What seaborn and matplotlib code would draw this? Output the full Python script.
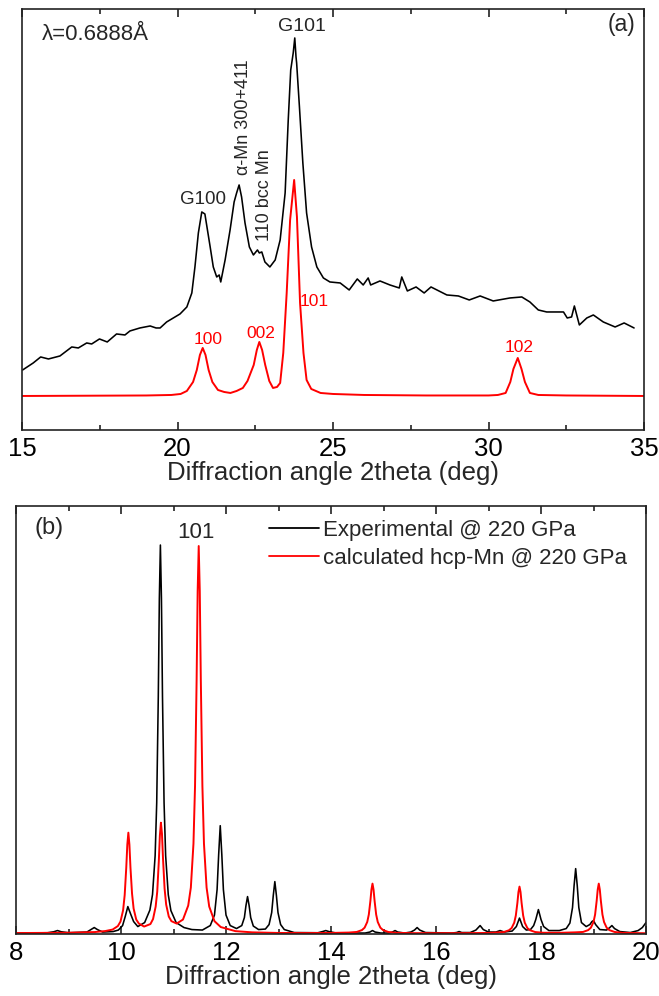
import numpy as np
import pandas as pd
import matplotlib
matplotlib.use("Agg")
import matplotlib.pyplot as plt
import seaborn as sns
from matplotlib.ticker import MultipleLocator

# ---------------- data: panel (a) ----------------
x_a_exp = [15.02, 15.36, 15.60, 15.85, 16.22, 16.60, 16.81, 17.08, 17.24, 17.49, 17.74, 18.04,
           18.31, 18.47, 18.79, 19.12, 19.31, 19.44, 19.65, 20.08, 20.30, 20.46, 20.56, 20.67,
           20.78, 20.88, 21.05, 21.15, 21.26, 21.34, 21.39, 21.53, 21.69, 21.82, 21.90, 21.98,
           22.06, 22.17, 22.31, 22.44, 22.57, 22.63, 22.71, 22.81, 22.97, 23.14, 23.30, 23.46,
           23.56, 23.64, 23.72, 23.77, 23.81, 23.83, 23.92, 24.03, 24.15, 24.31, 24.48, 24.69,
           24.90, 25.23, 25.52, 25.78, 25.97, 26.13, 26.21, 26.51, 26.83, 27.13, 27.21, 27.39,
           27.67, 27.93, 28.15, 28.66, 29.03, 29.38, 29.73, 30.15, 30.69, 31.07, 31.33, 31.60,
           31.87, 32.30, 32.41, 32.53, 32.67, 32.76, 32.92, 33.16, 33.37, 33.69, 34.07, 34.36,
           34.68]
y_a_exp = [57, 64, 70, 68, 71, 80, 79, 84, 83, 88, 85, 93,
           92, 96, 99, 101, 99, 99, 105, 113, 120, 134, 160, 194,
           215, 213, 180, 160, 150, 152, 145, 167, 197, 225, 234, 242,
           230, 204, 180, 172, 177, 174, 175, 165, 160, 167, 187, 234,
           307, 357, 374, 389, 370, 364, 320, 264, 214, 180, 160, 149,
           145, 144, 137, 148, 142, 149, 142, 146, 142, 139, 150, 136,
           140, 134, 140, 132, 131, 127, 131, 126, 129, 130, 125, 117,
           115, 115, 115, 109, 110, 121, 102, 109, 112, 105, 100, 104,
           99]

x_a_calc = [15.0, 19.0, 19.8, 20.1, 20.3, 20.5, 20.62, 20.72, 20.81, 20.9, 21.0, 21.12, 21.3,
            21.5, 21.7, 21.9, 22.1, 22.25, 22.45, 22.55, 22.63, 22.72, 22.82, 22.95, 23.07,
            23.2, 23.3, 23.4, 23.51, 23.62, 23.75, 23.84, 23.94, 24.05, 24.15, 24.3, 24.6,
            25.0, 26.0, 28.0, 30.0, 30.3, 30.55, 30.7, 30.8, 30.94, 31.06, 31.17, 31.33,
            31.6, 32.5, 35.0]
y_a_calc = [31, 31.5, 32, 33, 36, 45, 57, 72, 79, 72, 57, 45, 37,
            35, 34, 36, 39, 46, 62, 77, 85, 77, 62, 46, 39,
            40, 44, 74, 134, 207, 247, 210, 124, 74, 47, 38, 34,
            33, 32, 31.5, 31.5, 32, 34, 45, 58, 69, 58, 45, 34,
            32, 31.5, 31]

xticks_a = [15, 20, 25, 30, 35]

# ---------------- data: panel (b) ----------------
x_b_exp = [8.0, 8.6, 8.72, 8.79, 8.86, 9.0, 9.35, 9.43, 9.49, 9.55, 9.65, 9.85, 9.95, 10.03,
           10.08, 10.13, 10.18, 10.24, 10.32, 10.45, 10.55, 10.60, 10.65, 10.68, 10.71, 10.73,
           10.75, 10.77, 10.79, 10.82, 10.85, 10.90, 10.95, 11.05, 11.2, 11.35, 11.55, 11.7,
           11.78, 11.83, 11.86, 11.89, 11.92, 11.95, 12.0, 12.08, 12.2, 12.3, 12.35, 12.38,
           12.41, 12.44, 12.47, 12.52, 12.62, 12.75, 12.82, 12.87, 12.9, 12.93, 12.96, 12.99,
           13.04, 13.11, 13.3, 13.75, 13.84, 13.90, 13.96, 14.1, 14.65, 14.74, 14.79, 14.84,
           14.95, 15.1, 15.17, 15.22, 15.27, 15.4, 15.52, 15.59, 15.64, 15.69, 15.8, 16.3,
           16.39, 16.44, 16.49, 16.65, 16.76, 16.84, 16.9, 17.0, 17.14, 17.22, 17.3, 17.45,
           17.53, 17.59, 17.65, 17.72, 17.8, 17.86, 17.9, 17.95, 18.0, 18.05, 18.15, 18.35,
           18.48, 18.55, 18.6, 18.63, 18.66, 18.69, 18.72, 18.77, 18.86, 18.93, 18.97, 19.0,
           19.04, 19.12, 19.25, 19.31, 19.35, 19.4, 19.5, 19.7, 19.85, 19.93, 20.0]
y_b_exp = [0.5, 0.8, 1.8, 3, 1.8, 0.8, 1.5, 4, 6, 4, 1.5, 2, 3.5, 8,
           17, 27, 20, 12, 7, 11, 23.5, 39, 78, 131, 237, 335,
           389, 335, 237, 131, 78, 39, 23, 11, 6, 4, 3.5, 8,
           18.5, 44, 79, 108, 79, 44, 18.5, 8, 5, 8, 16, 28,
           37, 28, 16, 7.5, 4, 4.5, 9, 21, 38, 52, 38, 21,
           9, 4, 1, 0.8, 2, 3, 2, 0.5, 0.5, 1.5, 3, 1.5,
           0.5, 0.5, 1.5, 3, 1.5, 0.5, 1.5, 3.5, 6, 3.5, 1, 0.5,
           1, 2, 1, 1, 3.5, 8, 4, 1.5, 1.5, 3, 1.5, 2.5,
           7, 15.5, 7, 3.5, 4, 8, 14, 24, 14, 7, 3, 3,
           5, 10.5, 26, 48, 65, 48, 26, 11, 7, 9, 12, 13,
           9, 4, 3.5, 6, 8, 5, 2, 1, 3, 6, 11]

x_b_calc = [8.0, 9.0, 9.5, 9.7, 9.84, 9.94, 9.99, 10.04, 10.07, 10.1, 10.12, 10.14, 10.16,
            10.18, 10.21, 10.24, 10.29, 10.34, 10.44, 10.56, 10.61, 10.66, 10.69, 10.72,
            10.74, 10.76, 10.78, 10.8, 10.83, 10.86, 10.91, 10.96, 11.06, 11.18, 11.28,
            11.33, 11.38, 11.41, 11.44, 11.46, 11.48, 11.5, 11.52, 11.55, 11.58, 11.63,
            11.68, 11.78, 11.9, 12.18, 12.5, 13.0, 13.5, 14.0, 14.34, 14.49, 14.59, 14.64,
            14.69, 14.72, 14.75, 14.77, 14.79, 14.81, 14.83, 14.86, 14.89, 14.94, 14.99,
            15.09, 15.24, 15.6, 16.5, 17.0, 17.14, 17.29, 17.39, 17.44, 17.49, 17.52, 17.55,
            17.57, 17.59, 17.61, 17.63, 17.66, 17.69, 17.74, 17.79, 17.89, 18.04, 18.4,
            18.65, 18.8, 18.9, 18.95, 19.0, 19.03, 19.06, 19.08, 19.1, 19.12, 19.14, 19.17,
            19.2, 19.25, 19.3, 19.4, 19.55, 20.0]
y_b_calc = [0.5, 0.8, 1.5, 2.5, 4, 7.5, 12, 23.4, 38.6, 66, 89, 101, 89,
            66, 40, 25, 14, 10, 7, 9.5, 14.5, 27, 42, 72.5,
            98, 111, 100, 75, 45, 29, 17, 12.4, 10, 14, 28,
            46, 90, 148, 254, 343, 388, 343, 254, 148, 90, 46,
            27, 12.4, 6.5, 2.4, 1.2, 0.6, 0.5, 0.6, 1, 1.6, 3.5, 5.9,
            11.6, 19, 32.7, 44, 50, 44, 32.7, 19, 11.6, 5.9, 3.5,
            1.6, 0.7, 0.4, 0.4, 0.6, 1, 1.5, 3.3, 5.5, 10.9, 18, 30.7,
            41.5, 47, 41.5, 30.7, 18, 10.9, 5.5, 3.3, 1.5, 0.8, 0.8,
            1.2, 1.6, 3.5, 5.9, 11.6, 19, 32.7, 44, 50, 44, 32.7, 19,
            11.6, 5.9, 3.5, 1.6, 0.7, 0.3]

xticks_b = [8, 10, 12, 14, 16, 18, 20]
legend_labels = ["Experimental @ 220 GPa", "calculated hcp-Mn @ 220 GPa"]

# ---------------- style ----------------
sns.set_theme(style="ticks")
FONT = ["Liberation Sans", "DejaVu Sans"]
plt.rcParams["font.family"] = FONT
plt.rcParams["axes.edgecolor"] = "#222222"
plt.rcParams["axes.linewidth"] = 1.2

BLACK = "#000000"
RED = "#ff0000"
LW = 1.15

fig = plt.figure(figsize=(6.59, 9.96), dpi=100)
ax1 = fig.add_axes([0.0334, 0.5683, 0.9439, 0.4227])
ax2 = fig.add_axes([0.0243, 0.0622, 0.9560, 0.4297])

df_a_exp = pd.DataFrame({"x": x_a_exp, "y": y_a_exp})
df_a_calc = pd.DataFrame({"x": x_a_calc, "y": y_a_calc})
df_b_exp = pd.DataFrame({"x": x_b_exp, "y": y_b_exp})
df_b_calc = pd.DataFrame({"x": x_b_calc, "y": y_b_calc})

sns.lineplot(data=df_a_exp, x="x", y="y", ax=ax1, color=BLACK, linewidth=LW, estimator=None)
sns.lineplot(data=df_a_calc, x="x", y="y", ax=ax1, color=RED, linewidth=LW + 0.25, estimator=None)

sns.lineplot(data=df_b_exp, x="x", y="y", ax=ax2, color=BLACK, linewidth=LW, estimator=None,
             label=legend_labels[0])
sns.lineplot(data=df_b_calc, x="x", y="y", ax=ax2, color=RED, linewidth=LW + 0.25, estimator=None,
             label=legend_labels[1])

TICK_FS = 18.5
for ax in (ax1, ax2):
    ax.set_ylabel("")
    ax.set_yticks([])
    ax.tick_params(axis="x", which="major", direction="in", length=6, width=1.2,
                   top=True, bottom=True, labelsize=TICK_FS, pad=5, colors="#222222",
                   labelcolor="black")
    ax.tick_params(axis="x", which="minor", direction="in", length=3.5, width=1.2,
                   top=True, bottom=True, colors="#222222")
    ax.set_xlabel("Diffraction angle 2theta (deg)", fontsize=TICK_FS, labelpad=0)
    for s in ax.spines.values():
        s.set_visible(True)
        s.set_linewidth(1.2)

ax1.set_xlim(15, 35)
ax1.set_ylim(-3, 418)
ax1.set_xticks(xticks_a)
ax1.xaxis.set_minor_locator(MultipleLocator(2.5))

ax2.set_xlim(8, 20)
ax2.set_ylim(-0.5, 428)
ax2.set_xticks(xticks_b)
ax2.xaxis.set_minor_locator(MultipleLocator(1))

# ---------------- annotations (a) ----------------
ax1.text(15.64, 392, "λ=0.6888Å", fontsize=16, ha="left", va="center")
ax1.text(0.986, 0.962, "(a)", transform=ax1.transAxes, fontsize=16.5, ha="right", va="center")
ax1.text(24.0, 400, "G101", fontsize=14, ha="center", va="center")
ax1.text(20.82, 227, "G100", fontsize=13.5, ha="center", va="center")
ax1.text(22.11, 310, "α-Mn 300+411", fontsize=13, ha="center", va="center", rotation=90)
ax1.text(22.81, 232, "110 bcc Mn", fontsize=13, ha="center", va="center", rotation=90)
ax1.text(20.98, 87, "100", fontsize=12.5, ha="center", va="center", color=RED)
ax1.text(22.68, 93, "002", fontsize=12.5, ha="center", va="center", color=RED)
ax1.text(24.39, 125, "101", fontsize=12.5, ha="center", va="center", color=RED)
ax1.text(30.98, 79, "102", fontsize=12.5, ha="center", va="center", color=RED)

# ---------------- annotations (b) ----------------
ax2.text(8.63, 406, "(b)", fontsize=17, ha="center", va="center")
ax2.text(11.43, 402, "101", fontsize=16, ha="center", va="center")

leg = ax2.legend(loc="upper left", bbox_to_anchor=(0.4016, 0.968), frameon=False,
                 fontsize=16, handlelength=2.25, handletextpad=0.18, borderpad=0,
                 borderaxespad=0, labelspacing=0.33)
for h in leg.get_lines():
    h.set_linewidth(1.3)

fig.savefig("out.png", dpi=100)
